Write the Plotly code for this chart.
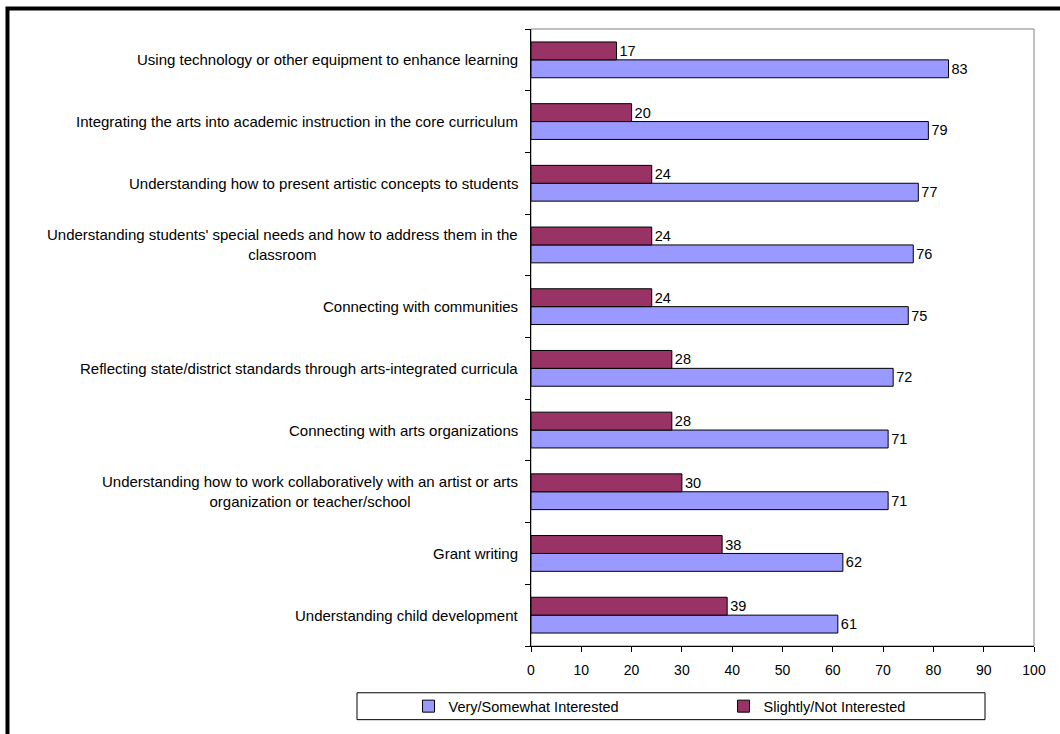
import plotly.graph_objects as go

# Survey topics, listed top to bottom as shown
topics = [
    "Using technology or other equipment to enhance learning",
    "Integrating the arts into academic instruction in the core curriculum",
    "Understanding how to present artistic concepts to students",
    "Understanding students' special needs and how to address them in the<br>classroom",
    "Connecting with communities",
    "Reflecting state/district standards through arts-integrated curricula",
    "Connecting with arts organizations",
    "Understanding how to work collaboratively with an artist or arts<br>organization or teacher/school",
    "Grant writing",
    "Understanding child development",
]
very_somewhat = [83, 79, 77, 76, 75, 72, 71, 71, 62, 61]
slightly_not = [17, 20, 24, 24, 24, 28, 28, 30, 38, 39]
x_ticks = [0, 10, 20, 30, 40, 50, 60, 70, 80, 90, 100]

FONT = "Liberation Sans, Arial, sans-serif"
BLUE = "#9999FF"
MAROON = "#993366"

# Category axis runs bottom-up, so feed the lists reversed
cats = topics[::-1]
blue_vals = very_somewhat[::-1]
maroon_vals = slightly_not[::-1]

fig = go.Figure()
fig.add_trace(go.Bar(
    y=cats, x=blue_vals, orientation="h", name="Very/Somewhat Interested",
    marker=dict(color=BLUE, line=dict(color="#000000", width=1)),
    text=blue_vals, textposition="outside", cliponaxis=False,
    textfont=dict(family=FONT, size=14.5, color="#000000"),
))
fig.add_trace(go.Bar(
    y=cats, x=maroon_vals, orientation="h", name="Slightly/Not Interested",
    marker=dict(color=MAROON, line=dict(color="#000000", width=1)),
    text=maroon_vals, textposition="outside", cliponaxis=False,
    textfont=dict(family=FONT, size=14.5, color="#000000"),
))

# Category labels: right-aligned block, lines centred within it
annotations = [
    dict(x=0, y=c, xref="x", yref="y", text=c, showarrow=False,
         xanchor="right", yanchor="middle", align="center", xshift=-11,
         font=dict(family=FONT, size=15, color="#000000"))
    for c in cats
]

shapes = [
    # plot-area frame (top/right in grey)
    dict(type="rect", xref="x domain", yref="y domain", x0=0, x1=1, y0=0, y1=1,
         line=dict(color="#808080", width=1), layer="below"),
    # legend box
    dict(type="rect", xref="paper", yref="paper",
         x0=-0.3459, x1=0.9026, y0=-0.1194, y1=-0.0758,
         line=dict(color="#000000", width=1), fillcolor="rgba(0,0,0,0)"),
    # outer chart frame
    dict(type="rect", xref="paper", yref="paper",
         x0=-1.0408, x1=1.2, y0=-0.3, y1=1.0331,
         line=dict(color="#000000", width=4), fillcolor="rgba(0,0,0,0)"),
]

fig.update_layout(
    width=1060, height=734,
    margin=dict(l=531, r=26, t=29, b=85),
    paper_bgcolor="#FFFFFF", plot_bgcolor="#FFFFFF",
    barmode="group", bargap=0.42, bargroupgap=0,
    font=dict(family=FONT, size=14, color="#000000"),
    showlegend=True,
    legend=dict(
        orientation="h", x=-0.2435, xanchor="left", y=-0.0976, yanchor="middle",
        entrywidth=270, entrywidthmode="pixels", traceorder="normal",
        font=dict(family=FONT, size=14.5, color="#000000"),
        bgcolor="rgba(0,0,0,0)", borderwidth=0,
    ),
    xaxis=dict(
        range=[0, 100], tickvals=x_ticks, ticks="outside", ticklen=5,
        tickcolor="#000000", showline=True, linecolor="#000000", linewidth=1,
        showgrid=False, zeroline=False, fixedrange=True, ticklabelstandoff=6,
        tickfont=dict(family=FONT, size=14, color="#000000"),
    ),
    yaxis=dict(
        type="category", categoryorder="array", categoryarray=cats,
        showticklabels=False, ticks="outside", ticklen=5, tickson="boundaries",
        tickcolor="#000000", showline=True, linecolor="#000000", linewidth=1,
        showgrid=False, zeroline=False, fixedrange=True,
    ),
    annotations=annotations,
    shapes=shapes,
)

fig.write_html("out.html")
